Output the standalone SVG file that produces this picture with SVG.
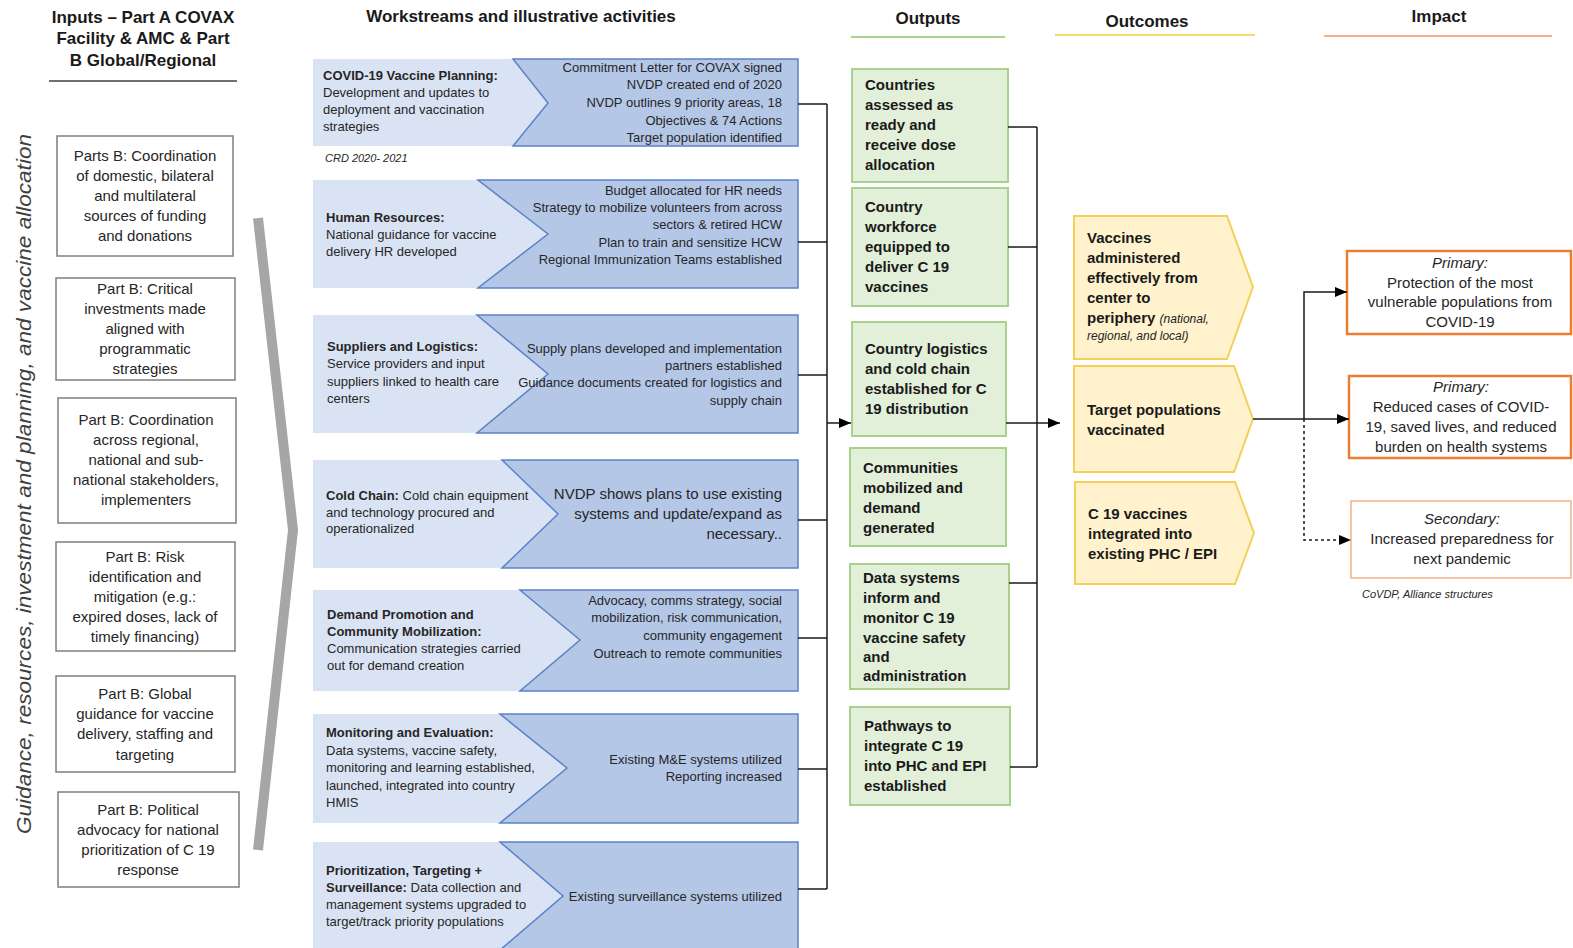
<svg xmlns="http://www.w3.org/2000/svg" width="1573" height="948" viewBox="0 0 1573 948">
<defs>
<marker id="ah" markerWidth="12" markerHeight="10" refX="12" refY="5" orient="auto" markerUnits="userSpaceOnUse"><path d="M0,0 L12,5 L0,10 z" fill="#000"/></marker>
<style>
text{font-family:"Liberation Sans",Arial,sans-serif;fill:#262626}
.hd{font-size:17px;font-weight:bold;text-anchor:middle;fill:#1a1a1a}
.in{fill:#fff;stroke:#7f7f7f;stroke-width:1.5}
.it{font-size:15px;text-anchor:middle}
.wl{fill:#dae3f3}
.wd{fill:#b4c7e7;stroke:#5b82c8;stroke-width:1.5}
.ws{font-size:13px}
.wr{font-size:13px;text-anchor:end}
.b{font-weight:bold}
.op{fill:#e2f0d9;stroke:#a9d18e;stroke-width:2}
.ot{font-size:15px;font-weight:bold;fill:#1a1a1a}
.oc{fill:#fff2cc;stroke:#f4cf5a;stroke-width:2}
.im{fill:#fff;stroke:#ed7d31;stroke-width:2.5}
.imt{font-size:15px;text-anchor:middle}
.ital{font-style:italic}
.ln{fill:none;stroke:#1a1a1a;stroke-width:1.5}
</style>
</defs>
<rect width="1573" height="948" fill="#fff"/>

<g id="headers">
<text class="hd" x="143" y="23">Inputs – Part A COVAX</text>
<text class="hd" x="143" y="44">Facility &amp; AMC &amp; Part</text>
<text class="hd" x="143" y="66">B Global/Regional</text>
<line x1="49" y1="81" x2="237" y2="81" stroke="#404040" stroke-width="1.5"/>
<text class="hd" x="521" y="22">Workstreams and illustrative activities</text>
<text class="hd" x="928" y="24">Outputs</text>
<line x1="851" y1="37" x2="1005" y2="37" stroke="#a9d18e" stroke-width="2"/>
<text class="hd" x="1147" y="27">Outcomes</text>
<line x1="1055" y1="35" x2="1255" y2="35" stroke="#ffd966" stroke-width="2"/>
<text class="hd" x="1439" y="22">Impact</text>
<line x1="1324" y1="36" x2="1552" y2="36" stroke="#f4b183" stroke-width="2"/>
</g>

<g id="side-label">
<text transform="translate(31,484) rotate(-90)" font-size="20.5" font-style="italic" text-anchor="middle" textLength="700" lengthAdjust="spacingAndGlyphs" style="fill:#404040">Guidance, resources, investment and planning, and vaccine allocation</text>
<polyline points="258,218 293,530 258,850" fill="none" stroke="#a6a6a6" stroke-width="10"/>
</g>

<g id="input1"><rect class="in" x="57" y="136" width="176" height="120"/>
<text class="it" x="145" y="161">Parts B: Coordination</text><text class="it" x="145" y="181">of domestic, bilateral</text><text class="it" x="145" y="201">and multilateral</text><text class="it" x="145" y="221">sources of funding</text><text class="it" x="145" y="241">and donations</text></g>
<g id="input2"><rect class="in" x="56" y="278" width="179" height="102"/>
<text class="it" x="145" y="294">Part B: Critical</text><text class="it" x="145" y="314">investments made</text><text class="it" x="145" y="334">aligned with</text><text class="it" x="145" y="354">programmatic</text><text class="it" x="145" y="374">strategies</text></g>
<g id="input3"><rect class="in" x="58" y="398" width="178" height="125"/>
<text class="it" x="146" y="425">Part B: Coordination</text><text class="it" x="146" y="445">across regional,</text><text class="it" x="146" y="465">national and sub-</text><text class="it" x="146" y="485">national stakeholders,</text><text class="it" x="146" y="505">implementers</text></g>
<g id="input4"><rect class="in" x="56" y="542" width="179" height="109"/>
<text class="it" x="145" y="562">Part B: Risk</text><text class="it" x="145" y="582">identification and</text><text class="it" x="145" y="602">mitigation (e.g.:</text><text class="it" x="145" y="622">expired doses, lack of</text><text class="it" x="145" y="642">timely financing)</text></g>
<g id="input5"><rect class="in" x="56" y="676" width="179" height="96"/>
<text class="it" x="145" y="699">Part B: Global</text><text class="it" x="145" y="719">guidance for vaccine</text><text class="it" x="145" y="739">delivery, staffing and</text><text class="it" x="145" y="760">targeting</text></g>
<g id="input6"><rect class="in" x="58" y="792" width="181" height="95"/>
<text class="it" x="148" y="815">Part B: Political</text><text class="it" x="148" y="835">advocacy for national</text><text class="it" x="148" y="855">prioritization of C 19</text><text class="it" x="148" y="875">response</text></g>

<g id="ws1"><rect class="wl" x="313" y="59" width="485" height="87"/>
<polygon class="wd" points="513,59 798,59 798,146 513,146 548,103"/>
<text class="ws b" x="323" y="80">COVID-19 Vaccine Planning:</text>
<text class="ws" x="323" y="97">Development and updates to</text>
<text class="ws" x="323" y="114">deployment and vaccination</text>
<text class="ws" x="323" y="131">strategies</text>
<text class="wr" x="782" y="72">Commitment Letter for COVAX signed</text>
<text class="wr" x="782" y="89">NVDP created end of 2020</text>
<text class="wr" x="782" y="107">NVDP outlines 9 priority areas, 18</text>
<text class="wr" x="782" y="125">Objectives &amp; 74 Actions</text>
<text class="wr" x="782" y="142">Target population identified</text>
<text x="325" y="162" font-size="11" font-style="italic">CRD 2020- 2021</text></g>

<g id="ws2"><rect class="wl" x="313" y="180" width="485" height="108"/>
<polygon class="wd" points="478,180 798,180 798,288 478,288 548,234"/>
<text class="ws b" x="326" y="222">Human Resources:</text>
<text class="ws" x="326" y="239">National guidance for vaccine</text>
<text class="ws" x="326" y="256">delivery HR developed</text>
<text class="wr" x="782" y="195">Budget allocated for HR needs</text>
<text class="wr" x="782" y="212">Strategy to mobilize volunteers from across</text>
<text class="wr" x="782" y="229">sectors &amp; retired HCW</text>
<text class="wr" x="782" y="247">Plan to train and sensitize HCW</text>
<text class="wr" x="782" y="264">Regional Immunization Teams established</text></g>

<g id="ws3"><rect class="wl" x="313" y="315" width="485" height="118"/>
<polygon class="wd" points="477,315 798,315 798,433 477,433 548,374"/>
<text class="ws b" x="327" y="351">Suppliers and Logistics:</text>
<text class="ws" x="327" y="368">Service providers and input</text>
<text class="ws" x="327" y="386">suppliers linked to health care</text>
<text class="ws" x="327" y="403">centers</text>
<text class="wr" x="782" y="353">Supply plans developed and implementation</text>
<text class="wr" x="782" y="370">partners established</text>
<text class="wr" x="782" y="387">Guidance documents created for logistics and</text>
<text class="wr" x="782" y="405">supply chain</text></g>

<g id="ws4"><rect class="wl" x="313" y="460" width="485" height="108"/>
<polygon class="wd" points="502,460 798,460 798,568 502,568 558,514"/>
<text class="ws" x="326" y="500"><tspan class="b">Cold Chain:</tspan> Cold chain equipment</text>
<text class="ws" x="326" y="517">and technology procured and</text>
<text class="ws" x="326" y="533">operationalized</text>
<text x="782" y="499" font-size="15" text-anchor="end">NVDP shows plans to use existing</text>
<text x="782" y="519" font-size="15" text-anchor="end">systems and update/expand as</text>
<text x="782" y="539" font-size="15" text-anchor="end">necessary..</text></g>

<g id="ws5"><rect class="wl" x="313" y="590" width="485" height="101"/>
<polygon class="wd" points="520,590 798,590 798,691 520,691 580,640"/>
<text class="ws b" x="327" y="619">Demand Promotion and</text>
<text class="ws b" x="327" y="636">Community Mobilization:</text>
<text class="ws" x="327" y="653">Communication strategies carried</text>
<text class="ws" x="327" y="670">out for demand creation</text>
<text class="wr" x="782" y="605">Advocacy, comms strategy, social</text>
<text class="wr" x="782" y="622">mobilization, risk communication,</text>
<text class="wr" x="782" y="640">community engagement</text>
<text class="wr" x="782" y="658">Outreach to remote communities</text></g>

<g id="ws6"><rect class="wl" x="313" y="714" width="485" height="109"/>
<polygon class="wd" points="500,714 798,714 798,823 500,823 567,768"/>
<text class="ws b" x="326" y="737">Monitoring and Evaluation:</text>
<text class="ws" x="326" y="755">Data systems, vaccine safety,</text>
<text class="ws" x="326" y="772">monitoring and learning established,</text>
<text class="ws" x="326" y="790">launched, integrated into country</text>
<text class="ws" x="326" y="807">HMIS</text>
<text class="wr" x="782" y="764">Existing M&amp;E systems utilized</text>
<text class="wr" x="782" y="781">Reporting increased</text></g>

<g id="ws7"><rect class="wl" x="313" y="842" width="485" height="108"/>
<polygon class="wd" points="500,842 798,842 798,950 500,950 563,896"/>
<text class="ws b" x="326" y="875">Prioritization, Targeting +</text>
<text class="ws" x="326" y="892"><tspan class="b">Surveillance:</tspan> Data collection and</text>
<text class="ws" x="326" y="909">management systems upgraded to</text>
<text class="ws" x="326" y="926">target/track priority populations</text>
<text class="wr" x="782" y="901">Existing surveillance systems utilized</text></g>

<g id="out1"><rect class="op" x="852" y="69" width="156" height="113"/>
<text class="ot" x="865" y="90">Countries</text><text class="ot" x="865" y="110">assessed as</text><text class="ot" x="865" y="130">ready and</text><text class="ot" x="865" y="150">receive dose</text><text class="ot" x="865" y="170">allocation</text></g>
<g id="out2"><rect class="op" x="852" y="188" width="156" height="118"/>
<text class="ot" x="865" y="212">Country</text><text class="ot" x="865" y="232">workforce</text><text class="ot" x="865" y="252">equipped to</text><text class="ot" x="865" y="272">deliver C 19</text><text class="ot" x="865" y="292">vaccines</text></g>
<g id="out3"><rect class="op" x="852" y="322" width="154" height="114"/>
<text class="ot" x="865" y="354">Country logistics</text><text class="ot" x="865" y="374">and cold chain</text><text class="ot" x="865" y="394">established for C</text><text class="ot" x="865" y="414">19 distribution</text></g>
<g id="out4"><rect class="op" x="850" y="448" width="156" height="98"/>
<text class="ot" x="863" y="473">Communities</text><text class="ot" x="863" y="493">mobilized and</text><text class="ot" x="863" y="513">demand</text><text class="ot" x="863" y="533">generated</text></g>
<g id="out5"><rect class="op" x="850" y="564" width="159" height="125"/>
<text class="ot" x="863" y="583">Data systems</text><text class="ot" x="863" y="603">inform and</text><text class="ot" x="863" y="623">monitor C 19</text><text class="ot" x="863" y="643">vaccine safety</text><text class="ot" x="863" y="662">and</text><text class="ot" x="863" y="681">administration</text></g>
<g id="out6"><rect class="op" x="850" y="707" width="160" height="98"/>
<text class="ot" x="864" y="731">Pathways to</text><text class="ot" x="864" y="751">integrate C 19</text><text class="ot" x="864" y="771">into PHC and EPI</text><text class="ot" x="864" y="791">established</text></g>

<g id="outcome1"><polygon class="oc" points="1074,216 1227,216 1253,287 1227,359 1074,359"/>
<text class="ot" x="1087" y="243">Vaccines</text><text class="ot" x="1087" y="263">administered</text><text class="ot" x="1087" y="283">effectively from</text><text class="ot" x="1087" y="303">center to</text>
<text class="ot" x="1087" y="323">periphery <tspan font-size="12" font-weight="normal" font-style="italic">(national,</tspan></text>
<text x="1087" y="340" font-size="12" font-style="italic">regional, and local)</text></g>
<g id="outcome2"><polygon class="oc" points="1074,366 1234,366 1253,419 1234,472 1074,472"/>
<text class="ot" x="1087" y="415">Target populations</text><text class="ot" x="1087" y="435">vaccinated</text></g>
<g id="outcome3"><polygon class="oc" points="1075,482 1235,482 1254,533 1235,584 1075,584"/>
<text class="ot" x="1088" y="519">C 19 vaccines</text><text class="ot" x="1088" y="539">integrated into</text><text class="ot" x="1088" y="559">existing PHC / EPI</text></g>

<g id="impact1"><rect class="im" x="1347" y="251" width="224" height="83"/>
<text class="imt ital" x="1460" y="268" font-size="14">Primary:</text>
<text class="imt" x="1460" y="288">Protection of the most</text><text class="imt" x="1460" y="307">vulnerable populations from</text><text class="imt" x="1460" y="327">COVID-19</text></g>
<g id="impact2"><rect class="im" x="1349" y="376" width="222" height="82"/>
<text class="imt ital" x="1461" y="392" font-size="14">Primary:</text>
<text class="imt" x="1461" y="412">Reduced cases of COVID-</text><text class="imt" x="1461" y="432">19, saved lives, and reduced</text><text class="imt" x="1461" y="452">burden on health systems</text></g>
<g id="impact3"><rect x="1351" y="501" width="220" height="77" fill="#fff" stroke="#f4b183" stroke-width="1.5"/>
<text class="imt ital" x="1462" y="524" font-size="14">Secondary:</text>
<text class="imt" x="1462" y="544">Increased preparedness for</text><text class="imt" x="1462" y="564">next pandemic</text>
<text x="1362" y="598" font-size="11" font-style="italic">CoVDP, Alliance structures</text></g>

<g id="connectors">
<path class="ln" d="M798,104 H827 M798,242 H827 M798,375 H827 M798,520 H827 M798,638 H827 M798,769 H827 M798,889 H827 M827,104 V889"/>
<line class="ln" x1="827" y1="423" x2="851" y2="423" marker-end="url(#ah)"/>
<path class="ln" d="M1008,127 H1037 M1008,247 H1037 M1006,423 H1037 M1009,583 H1037 M1010,767 H1037 M1037,127 V767"/>
<line class="ln" x1="1037" y1="423" x2="1060" y2="423" marker-end="url(#ah)"/>
<line class="ln" x1="1253" y1="419" x2="1349" y2="419" marker-end="url(#ah)"/>
<path class="ln" d="M1304,419 V292 H1347" marker-end="url(#ah)"/>
<path d="M1304,419 V540 H1351" fill="none" stroke="#1a1a1a" stroke-width="1.5" stroke-dasharray="3,3" marker-end="url(#ah)"/>
</g>
</svg>
